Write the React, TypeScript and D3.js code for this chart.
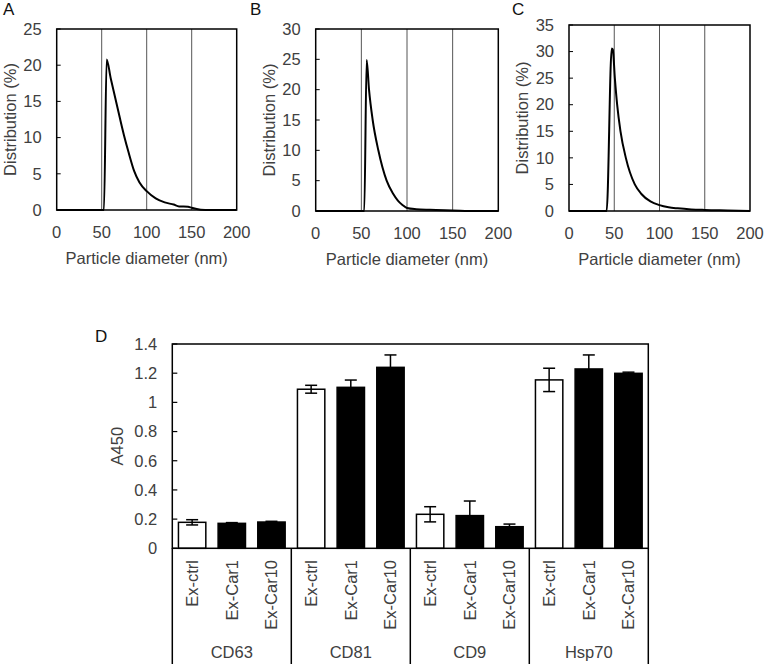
import React from "react";
import * as d3 from "d3";

// ---------- Data: particle size distributions ----------
const distA_x = [0, 10, 20, 30, 40, 50, 52.5, 55.5, 60, 65, 70, 74.8, 80, 86, 92, 100, 110, 120, 130, 136, 146, 150, 160, 170, 180, 190, 200];
const distA_y = [0, 0, 0, 0, 0, 0, 0, 20.8, 18.2, 15.5, 12.8, 10.3, 7.9, 5.4, 3.8, 2.6, 1.6, 1.05, 0.75, 0.5, 0.45, 0.3, 0.05, 0, 0, 0, 0];

const distB_x = [0, 10, 20, 30, 40, 50, 53.2, 55.8, 58.4, 62.4, 68.6, 77.7, 85, 90, 95, 100, 110, 125, 150, 175, 200];
const distB_y = [0, 0, 0, 0, 0, 0, 0, 24.9, 20, 15, 10, 5, 2.8, 1.7, 1.0, 0.5, 0.3, 0.2, 0.1, 0, 0];

const distC_x = [0, 10, 20, 30, 40, 41.6, 47.2, 48.4, 50.7, 53.2, 56.9, 62.8, 72.7, 80, 90, 100, 110, 120, 135, 150, 175, 200];
const distC_y = [0, 0, 0, 0, 0, 0, 30.6, 30.4, 24.9, 20, 15, 10, 5, 3.2, 1.8, 1.1, 0.7, 0.5, 0.3, 0.2, 0.1, 0];

const xTicksDist = [0, 50, 100, 150, 200];
const gridDist = [50, 100, 150];

// ---------- Data: ELISA A450 ----------
const markers = ["CD63", "CD81", "CD9", "Hsp70"];
const samples = ["Ex-ctrl", "Ex-Car1", "Ex-Car10"];
const valCD63 = [0.178, 0.171, 0.18];
const errCD63 = [0.018, 0.005, 0.005];
const valCD81 = [1.09, 1.103, 1.24];
const errCD81 = [0.027, 0.05, 0.085];
const valCD9 = [0.233, 0.224, 0.148];
const errCD9 = [0.052, 0.1, 0.018];
const valHsp70 = [1.154, 1.229, 1.199];
const errHsp70 = [0.08, 0.096, 0.008];
const yTicksD = [0, 0.2, 0.4, 0.6, 0.8, 1, 1.2, 1.4];

const FONT = "'Liberation Sans', Arial, sans-serif";
const TXT = "#404040";
const FS = 16.5;

type DistProps = {
  letter: string;
  letterX: number;
  xs: number[];
  ys: number[];
  yMax: number;
  left: number;
  right: number;
  top: number;
  bottom: number;
};

function DistPanel({ letter, letterX, xs, ys, yMax, left, right, top, bottom }: DistProps) {
  const x = d3.scaleLinear().domain([0, 200]).range([left, right]);
  const y = d3.scaleLinear().domain([0, yMax]).range([bottom, top]);
  const yTicks = d3.range(0, yMax + 0.001, 5);
  const pts = xs.map((v, i) => [v, ys[i]] as [number, number]);
  const line = d3
    .line<[number, number]>()
    .x((d) => x(d[0]))
    .y((d) => y(d[1]))
    .curve(d3.curveMonotoneX);
  return (
    <g>
      <text x={letterX} y={15} fontSize={17} fill="#111" fontFamily={FONT}>
        {letter}
      </text>
      {gridDist.map((g) => (
        <line key={g} x1={x(g)} x2={x(g)} y1={top} y2={bottom} stroke="#555" strokeWidth={1} />
      ))}
      <path d={line(pts) || ""} fill="none" stroke="#000" strokeWidth={2} />
      <rect x={left} y={top} width={right - left} height={bottom - top} fill="none" stroke="#000" strokeWidth={1.5} />
      {yTicks.map((t) => (
        <g key={t}>
          <line x1={left} x2={left + 4} y1={y(t)} y2={y(t)} stroke="#000" strokeWidth={1} />
          <text x={left - 15} y={y(t)} dy="0.35em" textAnchor="end" fontSize={FS} fill={TXT} fontFamily={FONT}>
            {t}
          </text>
        </g>
      ))}
      {xTicksDist.map((t) => (
        <text key={t} x={x(t)} y={bottom + 27.5} textAnchor="middle" fontSize={FS} fill={TXT} fontFamily={FONT}>
          {t}
        </text>
      ))}
      <text x={(left + right) / 2} y={bottom + 54} textAnchor="middle" fontSize={FS} fill={TXT} fontFamily={FONT}>
        Particle diameter (nm)
      </text>
      <text
        transform={`translate(${left - 46.5},${(top + bottom) / 2}) rotate(-90)`}
        textAnchor="middle"
        dy="0.35em"
        fontSize={FS}
        fill={TXT}
        fontFamily={FONT}
      >
        Distribution (%)
      </text>
    </g>
  );
}

function BarPanel() {
  const left = 172.3;
  const right = 648.3;
  const top = 344;
  const bottom = 548.3;
  const vals = [valCD63, valCD81, valCD9, valHsp70];
  const errs = [errCD63, errCD81, errCD9, errHsp70];
  const rows = markers.flatMap((m, gi) =>
    samples.map((s, si) => ({ key: `${m}-${s}`, marker: m, sample: s, si, v: vals[gi][si], e: errs[gi][si] }))
  );
  const x = d3
    .scaleBand<string>()
    .domain(rows.map((r) => r.key))
    .range([left, right])
    .paddingInner(0.31)
    .paddingOuter(0.155);
  const gx = d3.scaleBand<string>().domain(markers).range([left, right]);
  const y = d3.scaleLinear().domain([0, 1.4]).range([bottom, top]);
  const bw = x.bandwidth();
  const cap = 6;
  return (
    <g>
      <text x={95} y={342} fontSize={17} fill="#111" fontFamily={FONT}>
        D
      </text>
      {rows.map((r) => {
        const bx = x(r.key)!;
        const cx = bx + bw / 2;
        return (
          <g key={r.key}>
            <rect
              x={bx}
              y={y(r.v)}
              width={bw}
              height={bottom - y(r.v)}
              fill={r.si === 0 ? "#fff" : "#000"}
              stroke="#000"
              strokeWidth={1.5}
            />
            <line x1={cx} x2={cx} y1={y(r.v + r.e)} y2={y(r.v - r.e)} stroke="#000" strokeWidth={1.5} />
            <line x1={cx - cap} x2={cx + cap} y1={y(r.v + r.e)} y2={y(r.v + r.e)} stroke="#000" strokeWidth={1.5} />
            <line x1={cx - cap} x2={cx + cap} y1={y(r.v - r.e)} y2={y(r.v - r.e)} stroke="#000" strokeWidth={1.5} />
            <text
              transform={`translate(${cx},560) rotate(-90)`}
              textAnchor="end"
              dy="0.35em"
              fontSize={FS}
              fill={TXT}
              fontFamily={FONT}
            >
              {r.sample}
            </text>
          </g>
        );
      })}
      <rect x={left} y={top} width={right - left} height={bottom - top} fill="none" stroke="#000" strokeWidth={1.5} />
      {markers.map((m) => (
        <g key={m}>
          <line x1={gx(m)!} x2={gx(m)!} y1={bottom} y2={664} stroke="#000" strokeWidth={1.5} />
          <text
            x={gx(m)! + gx.bandwidth() / 2}
            y={658}
            textAnchor="middle"
            fontSize={FS}
            fill={TXT}
            fontFamily={FONT}
          >
            {m}
          </text>
        </g>
      ))}
      <line x1={right} x2={right} y1={bottom} y2={664} stroke="#000" strokeWidth={1.5} />
      {yTicksD.map((t) => (
        <g key={t}>
          <line x1={left} x2={left + 5} y1={y(t)} y2={y(t)} stroke="#000" strokeWidth={1.2} />
          <text x={left - 15} y={y(t)} dy="0.35em" textAnchor="end" fontSize={FS} fill={TXT} fontFamily={FONT}>
            {t}
          </text>
        </g>
      ))}
      <text
        transform={`translate(117,${(top + bottom) / 2}) rotate(-90)`}
        textAnchor="middle"
        dy="0.35em"
        fontSize={FS}
        fill={TXT}
        fontFamily={FONT}
      >
        A450
      </text>
    </g>
  );
}

export default function App() {
  return (
    <svg
      width={765}
      height={664}
      style={{ position: "absolute", left: 0, top: 0, background: "#fff" }}
      fontFamily={FONT}
    >
      <rect x={0} y={0} width={765} height={664} fill="#fff" />
      <DistPanel letter="A" letterX={3} xs={distA_x} ys={distA_y} yMax={25} left={56.7} right={236.7} top={29} bottom={210} />
      <DistPanel letter="B" letterX={250} xs={distB_x} ys={distB_y} yMax={30} left={315.7} right={498.3} top={29} bottom={211} />
      <DistPanel letter="C" letterX={512} xs={distC_x} ys={distC_y} yMax={35} left={569} right={750} top={25} bottom={211} />
      <BarPanel />
    </svg>
  );
}
